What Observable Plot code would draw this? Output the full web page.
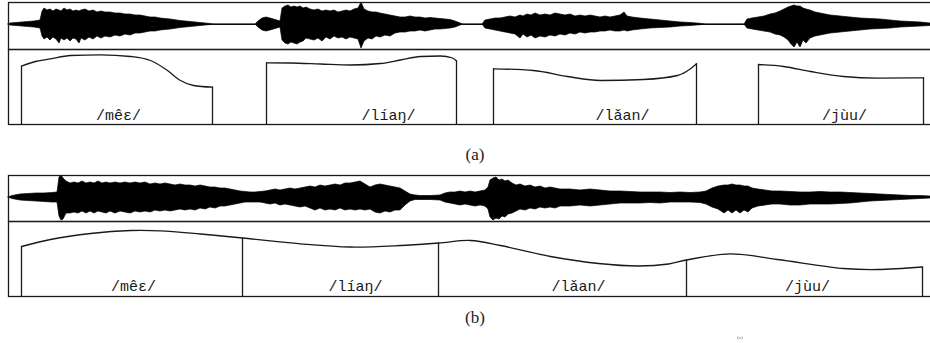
<!DOCTYPE html>
<html><head><meta charset="utf-8">
<script src="https://cdn.jsdelivr.net/npm/d3@7"></script>
<script src="https://cdn.jsdelivr.net/npm/@observablehq/plot@0.6"></script>
<style>
html,body{margin:0;padding:0;background:#fff;overflow:hidden;}
#fig{position:relative;width:930px;height:343px;overflow:hidden;}
#fig > svg, #fig > div {position:absolute;}
.cap{font-family:"Liberation Serif","DejaVu Serif",serif;font-size:17px;color:#222;width:60px;text-align:center;line-height:18px;}
.cut{font-family:"Liberation Serif","DejaVu Serif",serif;font-size:5px;color:#555;line-height:6px;}
</style></head><body><div id="fig"></div>
<script>
// Time axis in analysis frames; amplitude in arbitrary units; pitch in relative F0 units.
const syllables = ["/mêɛ/", "/líaŋ/", "/lǎan/", "/jùu/"];
const labelFrameA = [110, 380, 614, 836];
const labelFrameB = [125, 347, 570, 799];

// (a) isolated syllables: waveform envelope [frame, upper, lower]
const waveA = [[0,0,0],[2,1,-1],[8,1.5,-1.5],[14,2,-2],[20,2.5,-2.5],[26,3,-3],[32,4,-4],[34,13,-12],[36,16,-15],[39,14,-13],[42,15,-16],[45,13,-13],[48,15,-15],[51,14,-19],[53,13,-14],[56,16,-16],[59,14,-14],[62,15,-17],[65,13,-14],[68,14,-15],[71,13,-19],[73,14,-14],[77,15,-16],[81,13,-13],[85,14,-15],[89,12,-12],[93,13,-14],[97,12,-12],[102,12,-13],[107,11,-11],[112,11,-12],[117,10,-10],[122,10,-11],[127,9,-9],[132,9,-9],[137,8,-8],[142,7,-7],[147,7,-7],[152,6,-6],[162,5,-5],[172,3.5,-3.5],[182,2.5,-2.5],[192,1.5,-1.5],[202,0.5,-0.5],[206,0,0],[247,0,0],[250,3,-3],[254,6,-6],[258,7,-7],[262,6,-6],[267,4.5,-4.5],[272,3,-3],[274,16,-16],[277,18,-19],[280,19,-20],[283,17,-18],[286,18,-19],[289,17,-20],[292,18,-18],[295,16,-17],[298,17,-14],[302,15,-15],[306,14,-16],[310,15,-14],[314,13,-17],[318,14,-13],[322,13,-15],[326,14,-12],[330,12,-14],[334,13,-13],[338,14,-15],[342,13,-13],[346,15,-14],[350,16,-15],[353,22,-24],[356,15,-17],[360,13,-14],[364,12,-15],[368,12,-12],[372,11,-13],[377,10,-11],[382,9,-12],[387,8,-9],[392,7,-8],[397,7,-8],[402,8,-7],[407,7,-7],[412,7,-6],[417,6,-7],[422,6.5,-6],[427,6,-5],[432,5.5,-5],[437,5,-4.5],[442,4.5,-4],[447,3,-3],[452,1,-1],[455,0,0],[474,0,0],[477,4,-4],[482,5,-5],[487,6,-6],[492,6,-7],[497,7,-8],[502,8,-9],[507,7,-10],[512,9,-14],[515,8,-10],[519,10,-13],[523,9,-11],[527,11,-14],[532,9,-12],[537,10,-13],[542,9,-11],[547,11,-12],[552,10,-10],[557,9,-11],[562,10,-9],[567,8,-10],[572,9,-8],[577,8,-9],[582,9,-8],[587,8,-8],[592,7,-7],[597,8,-7],[602,7,-6],[607,8,-7],[612,9,-7],[616,12,-6],[619,8,-7],[624,7,-6],[632,6,-5],[642,5,-4],[652,4,-3.5],[662,3,-3],[672,2,-2],[682,1.5,-1.5],[692,0.7,-0.7],[698,0,0],[736,0,0],[739,5,-4],[744,6,-5],[750,7,-6],[756,8,-7],[762,10,-8],[767,11,-10],[772,13,-11],[776,15,-13],[780,17,-16],[783,18,-20],[786,19,-23],[789,18,-18],[792,18,-23],[795,16,-16],[798,15,-19],[802,14,-14],[807,12,-12],[812,11,-11],[817,10,-10],[822,9,-9],[832,8,-8],[842,7,-7],[852,6,-6],[862,5.5,-5],[872,5,-4.5],[882,4,-4],[892,3,-3],[902,2.5,-2.5],[912,2,-2],[922,1,-1.5],[930,0.5,-1]];

// (a) pitch contours [syllable, frame, pitch]
const contourA = [
 [0,13,58.3],[0,27,63],[0,42,65.7],[0,62,69],[0,92,69.7],[0,122,68],[0,142,64],[0,159,54],[0,172,44],[0,185,39],[0,204,37.3],
 [1,258,61.7],[1,282,61.5],[1,312,60.5],[1,342,59.5],[1,372,61],[1,392,64.5],[1,412,68],[1,432,68.5],[1,444,66.5],[1,448,63.5],
 [2,485,55.7],[2,525,54],[2,559,48],[2,592,44],[2,635,45],[2,669,49],[2,682,55.7],[2,688,60.7],
 [3,750,60],[3,775,58],[3,802,53],[3,835,48],[3,869,46.3],[3,915,46.7]
];

// (b) connected speech: waveform envelope [frame, upper, lower]
const waveB = [[0,0,0],[4,1.5,-1.5],[12,3,-3],[20,3.5,-3.5],[28,4,-4],[36,4,-4.5],[44,4.5,-5],[49,5,-5],[51,20,-19],[53,22,-23],[55,19,-22],[58,16,-16],[62,14,-16],[66,15,-15],[70,14,-16],[74,16,-14],[78,14,-16],[82,15,-14],[86,14,-16],[90,16,-14],[94,14,-15],[98,15,-16],[102,14,-14],[107,15,-16],[112,14,-14],[117,15,-15],[122,14,-16],[127,15,-14],[132,14,-15],[137,15,-14],[142,13,-15],[147,14,-13],[152,13,-14],[157,14,-13],[162,13,-14],[167,12,-13],[172,13,-12],[177,12,-13],[182,12,-12],[187,11,-13],[192,12,-11],[197,11,-12],[202,10,-10],[207,10,-11],[212,9,-9],[217,9,-9],[222,8,-8],[227,7,-7],[232,6,-6],[237,5.5,-5],[242,5,-5],[247,5,-5],[252,5.5,-5],[257,6,-6],[262,7,-7],[267,8,-6],[272,7,-8],[277,8,-7],[282,9,-8],[287,8,-9],[292,9,-10],[297,10,-9],[302,11,-11],[307,10,-13],[312,12,-11],[317,11,-13],[322,12,-12],[327,13,-13],[332,12,-11],[337,14,-13],[342,14,-12],[347,15,-13],[352,16,-12],[357,13,-13],[362,10,-12],[367,12,-15],[372,13,-16],[377,12,-14],[382,11,-15],[387,10,-13],[392,9,-13],[397,6,-8],[402,3,-4],[407,2,-2.5],[412,1.5,-2.5],[422,1.5,-2.5],[432,2,-3],[437,4,-5],[442,5,-6],[447,5,-7],[452,6,-8],[457,5,-7],[462,6,-8],[467,5,-9],[472,6,-8],[477,7,-9],[480,10,-12],[482,17,-20],[485,19,-23],[488,20,-21],[491,17,-22],[494,18,-19],[497,16,-20],[500,17,-17],[504,14,-16],[508,12,-14],[512,13,-12],[517,11,-13],[522,12,-11],[527,10,-12],[532,11,-10],[537,9,-11],[542,10,-10],[547,9,-11],[552,8,-9],[562,8,-9],[572,7,-8],[582,8,-9],[592,7,-8],[602,6,-7],[612,6,-6],[622,5.5,-6],[632,5,-6],[642,5,-5.5],[652,5,-6],[662,4.5,-5],[672,5,-5],[682,4.5,-5],[692,5,-5.5],[698,6,-7],[704,9,-10],[710,11,-12],[716,12,-16],[720,12,-13],[724,13,-16],[728,12,-13],[732,12,-16],[736,11,-13],[740,11,-15],[744,9,-11],[750,8,-9],[757,7,-8],[764,6,-7],[772,6,-7],[782,5.5,-8],[792,5,-8],[802,5,-7],[812,5.5,-7],[822,5,-7],[832,5,-6.5],[842,4.5,-6],[852,4,-5],[862,3.5,-4],[872,3,-3.5],[882,2.5,-3],[892,2,-2.5],[902,1.5,-2],[912,1.5,-1.5],[922,1,-1],[930,1,-1]];

// (b) continuous pitch contour [frame, pitch] and syllable boundaries (frames)
const contourB = [[13,50],[42,57],[82,63],[122,66],[152,65.7],[192,62.5],[234,58.5],[292,52.7],[342,49.5],[392,51],[430,53.5],[462,56],[492,51],[542,40],[590,33],[630,30.5],[660,32.5],[678,36.5],[722,42.7],[769,37],[835,28],[869,27],[914,29.5]];
const boundariesB = [13, 234, 430, 678, 914];

const captions = ["(a)", "(b)"];

const fig = document.getElementById("fig");
const INK = "#1a1a1a";
const monoFont = "'Liberation Mono','DejaVu Sans Mono',monospace";
const svgStyle = {background: "transparent", maxWidth: "none", overflow: "visible"};

function place(el, top, left = 0) { el.style.top = top + "px"; el.style.left = left + "px"; fig.appendChild(el); }

function wavePlot(rows, top, height, yDomain) {
  const data = rows.map(([f, hi, lo]) => ({f, hi, lo}));
  const svg = Plot.plot({
    width: 938, height, marginLeft: 8, marginRight: 0, marginTop: 2, marginBottom: 2,
    x: {domain: [0, 930], axis: null}, y: {domain: yDomain, axis: null},
    style: svgStyle,
    marks: [
      Plot.ruleY([0], {stroke: INK, strokeWidth: 1}),
      Plot.areaY(data, {x: "f", y1: "lo", y2: "hi", fill: "#000", stroke: "#000", strokeWidth: 0.7, curve: "linear"}),
      Plot.frame({stroke: INK, strokeWidth: 1.3})
    ]
  });
  place(svg, top);
}

function contourPlot(lineData, z, edges, labelFrames, top, curve, labelLevel) {
  const svg = Plot.plot({
    width: 938, height: 80, marginLeft: 8, marginRight: 0, marginTop: 2, marginBottom: 3,
    x: {domain: [0, 930], axis: null}, y: {domain: [0, 75], axis: null},
    style: svgStyle,
    marks: [
      Plot.line(lineData, {x: "f", y: "p", z, curve, stroke: INK, strokeWidth: 1.3}),
      Plot.ruleX(edges, {x: "f", y1: 0, y2: "p", stroke: INK, strokeWidth: 1.3}),
      Plot.text(syllables, {x: (d, i) => labelFrames[i], y: () => labelLevel, text: d => d,
        fontFamily: monoFont, fontSize: 15, fill: INK}),
      Plot.frame({stroke: INK, strokeWidth: 1.3})
    ]
  });
  place(svg, top);
}

// Panel (a)
wavePlot(waveA, 0, 51, [-25, 22]);
const lineA = contourA.map(([s, f, p]) => ({s, f, p}));
const edgesA = [];
d3.group(lineA, d => d.s).forEach(g => { edgesA.push(g[0], g[g.length - 1]); });
contourPlot(lineA, "s", edgesA, labelFrameA, 47, "monotone-x", 9);

// Panel (b)
wavePlot(waveB, 173, 50, [-24, 22]);
const lineB = contourB.map(([f, p]) => ({f, p}));
const edgesB = boundariesB.map(f => lineB.find(d => d.f === f));
contourPlot(lineB, null, edgesB, labelFrameB, 219, "catmull-rom", 10);

// Captions
const capTops = [146, 309];
captions.forEach((c, i) => {
  const d = document.createElement("div");
  d.className = "cap"; d.textContent = c;
  place(d, capTops[i], 445);
});
const cut = document.createElement("div");
cut.className = "cut"; cut.textContent = "(c)";
place(cut, 335, 737);
</script></body></html>
